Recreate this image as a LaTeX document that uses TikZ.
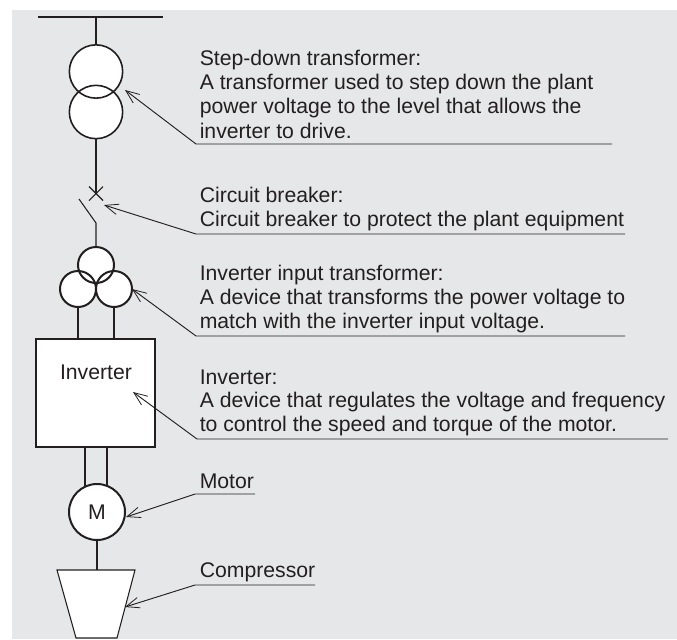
\documentclass[tikz,border=0pt]{standalone}
\usepackage{fontspec}
\setmainfont{Liberation Sans}
\usetikzlibrary{arrows.meta}
\definecolor{panel}{HTML}{E6E7E9}
\definecolor{ink}{HTML}{231F20}
\newcommand{\labfont}{\fontsize{15.9pt}{18pt}\selectfont}
\tikzset{x=0.75pt,y=-0.75pt,
  wire/.style={draw=ink,line width=0.8pt},
  ring/.style={circle,draw=ink,line width=1.2pt,inner sep=0pt,outer sep=0pt},
  heavy/.style={draw=ink,fill=white,line width=1.7pt,inner sep=0pt,outer sep=0pt},
  leader/.style={draw=ink,line width=0.7pt,-{Straight Barb[length=10pt,width=8pt,line width=0.6pt]}},
  lab/.style={anchor=base west,inner sep=0pt,text=ink,font=\labfont},
}
\begin{document}
\begin{tikzpicture}
\useasboundingbox (0,0) rectangle (677,639);
\fill[panel] (12,10) rectangle (677,639);
% bus and breaker points
\coordinate (busL) at (38,17); \coordinate (busR) at (163,17);
\coordinate (busM) at (96,17);
\coordinate (xc) at (96,193.5);
\coordinate (xa) at (89,186.5); \coordinate (xb) at (103,200.5);
\coordinate (xd) at (103,186.5); \coordinate (xe) at (89,200.5);
\coordinate (swT) at (79,199); \coordinate (swB) at (96,223);
% white discs under the overlapping rings
\fill[white] (96,71.5) circle (26.7) (96,112) circle (26.7);
\fill[white] (96,265) circle (18) (78,289) circle (18) (114,289) circle (18);
% transformer
\node[ring,minimum size=40pt] (T1) at (96,71.5) {};
\node[ring,minimum size=40pt] (T2) at (96,112) {};
% three winding transformer
\node[ring,line width=1.5pt,minimum size=27pt] (W1) at (96,265) {};
\node[ring,line width=1.5pt,minimum size=27pt] (W2) at (78,289) {};
\node[ring,line width=1.5pt,minimum size=27pt] (W3) at (114,289) {};
% inverter
\node[heavy,minimum width=89.25pt,minimum height=81pt] (inv) at (95.5,393) {};
\node[lab,anchor=base] (invl) at (96,379) {Inverter};
% motor, compressor
\node[heavy,circle,line width=1.5pt,minimum size=42pt,font=\labfont,text=ink] (M) at (97,512) {M};
\filldraw[fill=white,draw=ink,line width=0.8pt] (57,570) coordinate (cTL) -- (135,570) -- (117,638) -- (76,638) -- cycle;
\coordinate (cTop) at (97,570);
% connectors
\draw[wire] (busL) -- (busR);
\draw[wire] (busM) -- (T1.north);
\draw[wire] (T2.south) -- (xc);
\draw[wire] (xa) -- (xb) (xd) -- (xe);
\draw[wire] (swT) -- (swB) -- (W1.north);
\draw[wire] (W2.south) -- (W2.south |- inv.north);
\draw[wire] (W3.south) -- (W3.south |- inv.north);
\coordinate (mL) at (85,447); \coordinate (mR) at (107,447);
\coordinate (mLe) at (85,485.5); \coordinate (mRe) at (107,485.5);
\draw[wire] (mL) -- (mLe);
\draw[wire] (mR) -- (mRe);
\draw[wire] (M.south) -- (cTop);
% labels
\node[lab] (s1) at (199.5,65) {Step-down transformer:};
\node[lab] (s2) at (199.5,89.5) {A transformer used to step down the plant};
\node[lab] (s3) at (199.5,113.5) {power voltage to the level that allows the};
\node[lab] (s4) at (199.5,138.5) {inverter to drive.};
\node[lab] (b1) at (199.5,202) {Circuit breaker:};
\node[lab] (b2) at (199.5,226) {Circuit breaker to protect the plant equipment};
\node[lab] (i1) at (199.5,280) {Inverter input transformer:};
\node[lab] (i2) at (199.5,304.5) {A device that transforms the power voltage to};
\node[lab] (i3) at (199.5,328.5) {match with the inverter input voltage.};
\node[lab] (v1) at (199.5,384.5) {Inverter:};
\node[lab] (v2) at (199.5,407.5) {A device that regulates the voltage and frequency};
\node[lab] (v3) at (199.5,431.5) {to control the speed and torque of the motor.};
\node[lab] (m1) at (199.5,488) {Motor};
\node[lab] (c1l) at (199.5,577) {Compressor};
% leaders
\draw[leader] (612,144) -- (196,144) -- (125,90);
\draw[leader] (625,234) -- (196,234) -- (104,205);
\draw[leader] (625,336) -- (196,336) -- (132,289);
\draw[leader] (668,439) -- (197,439) -- (133,392);
\draw[leader] (255,494) -- (195,494) -- (126,517);
\draw[leader] (315,585) -- (195,585) -- (125,607);
\end{tikzpicture}
\end{document}
